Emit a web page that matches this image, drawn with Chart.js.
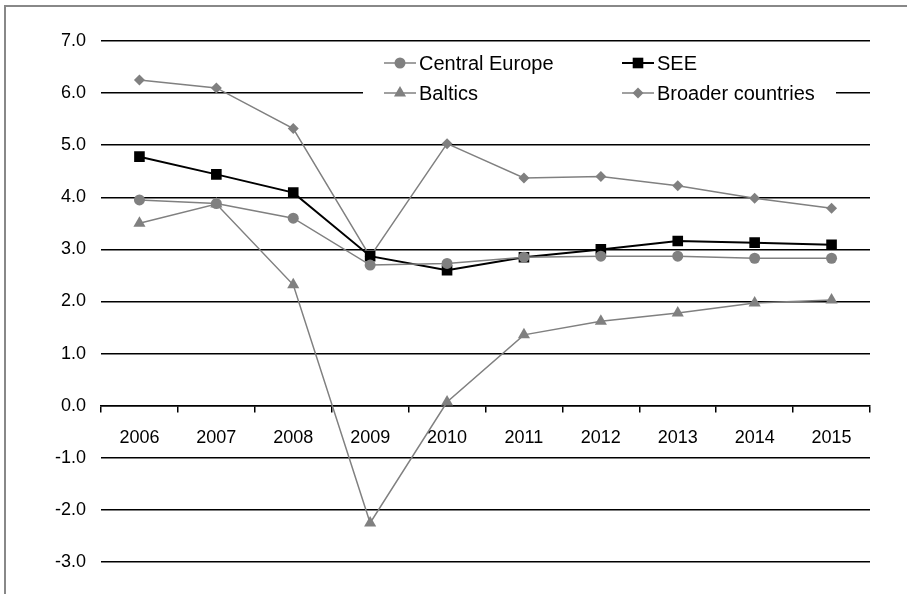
<!DOCTYPE html>
<html>
<head>
<meta charset="utf-8">
<script src="https://cdn.jsdelivr.net/npm/chart.js@4/dist/chart.umd.min.js"></script>
<style>
    html, body { margin: 0; padding: 0; background: #fff; overflow: hidden; }
    #wrap { position: relative; width: 907px; height: 594px; }
    #frame { position: absolute; left: 4px; top: 5px; width: 1000px; height: 1000px;
             border-left: 2.5px solid #888; border-top: 2.5px solid #888; pointer-events: none; }
</style>
</head>
<body>
<div id="wrap">
    <canvas id="chart" width="907" height="594"></canvas>
    <div id="frame"></div>
</div>
<script>
// Datos
const years = ['2006', '2007', '2008', '2009', '2010', '2011', '2012', '2013', '2014', '2015'];
const centralEurope = [3.95, 3.88, 3.60, 2.70, 2.73, 2.85, 2.87, 2.87, 2.83, 2.83];
const see = [4.78, 4.44, 4.09, 2.87, 2.60, 2.85, 3.00, 3.16, 3.13, 3.09];
const baltics = [3.50, 3.87, 2.32, -2.25, 0.07, 1.36, 1.62, 1.78, 1.97, 2.03];
const broader = [6.25, 6.10, 5.32, 2.86, 5.03, 4.37, 4.40, 4.22, 3.98, 3.79];

const GRAY = '#808080';
const FONT = "'Liberation Sans', Arial, sans-serif";

// Leyenda dibujada a mano (2 columnas, como en el original)
const legendPlugin = {
    id: 'gridLegend',
    afterDraw(chart) {
        const ctx = chart.ctx;
        ctx.save();
        ctx.fillStyle = '#fff';
        ctx.fillRect(363, 50, 473, 58);

        const items = [
            { ds: 0, x: 384, y: 63 },
            { ds: 1, x: 622, y: 63 },
            { ds: 2, x: 384, y: 93 },
            { ds: 3, x: 622, y: 93 }
        ];
        items.forEach(it => {
            const d = chart.data.datasets[it.ds];
            ctx.strokeStyle = d.borderColor;
            ctx.lineWidth = d.borderWidth;
            ctx.beginPath();
            ctx.moveTo(it.x, it.y);
            ctx.lineTo(it.x + 32, it.y);
            ctx.stroke();
            ctx.fillStyle = d.pointBackgroundColor;
            ctx.strokeStyle = d.pointBackgroundColor;
            Chart.helpers.drawPoint(ctx, {
                pointStyle: d.pointStyle, radius: d.pointRadius, rotation: 0, borderWidth: 0
            }, it.x + 16, it.y);
            ctx.fillStyle = '#000';
            ctx.font = '20px ' + FONT;
            ctx.textBaseline = 'middle';
            ctx.textAlign = 'left';
            ctx.fillText(d.label, it.x + 35, it.y + 1);
        });
        ctx.restore();
    }
};

function makeSeries(label, data, color, style, radius, width) {
    return {
        label: label,
        data: data,
        borderColor: color,
        backgroundColor: color,
        pointBackgroundColor: color,
        pointBorderColor: color,
        pointBorderWidth: 0,
        pointStyle: style,
        pointRadius: radius,
        pointHoverRadius: radius,
        borderWidth: width,
        tension: 0,
        fill: false
    };
}

new Chart(document.getElementById('chart').getContext('2d'), {
    type: 'line',
    data: {
        labels: years,
        datasets: [
            makeSeries('Central Europe', centralEurope, GRAY, 'circle', 5.5, 1.5),
            makeSeries('SEE', see, '#000', 'rect', 7.5, 2),
            makeSeries('Baltics', baltics, GRAY, 'triangle', 7, 1.5),
            makeSeries('Broader countries', broader, GRAY, 'rectRot', 5.5, 1.5)
        ]
    },
    options: {
        responsive: false,
        animation: false,
        layout: { padding: { top: 41, right: 37, bottom: 32, left: 0 } },
        plugins: {
            legend: { display: false },
            tooltip: { enabled: false }
        },
        scales: {
            x: {
                position: { y: 0 },
                offset: true,
                grid: {
                    offset: true,
                    drawOnChartArea: false,
                    drawTicks: true,
                    tickLength: 6,
                    color: '#000',
                    lineWidth: 1.5
                },
                border: { display: true, color: '#000', width: 1.5 },
                ticks: {
                    color: '#000',
                    font: { family: FONT, size: 18 },
                    padding: 16,
                    maxRotation: 0
                }
            },
            y: {
                min: -3,
                max: 7,
                afterFit(scale) { scale.width = 101; },
                grid: {
                    color: '#000',
                    lineWidth: 1.5,
                    drawTicks: false
                },
                border: { display: false },
                ticks: {
                    stepSize: 1,
                    color: '#000',
                    padding: 15,
                    font: { family: FONT, size: 18 },
                    callback: v => v.toFixed(1)
                }
            }
        }
    },
    plugins: [legendPlugin]
});
</script>
</body>
</html>
